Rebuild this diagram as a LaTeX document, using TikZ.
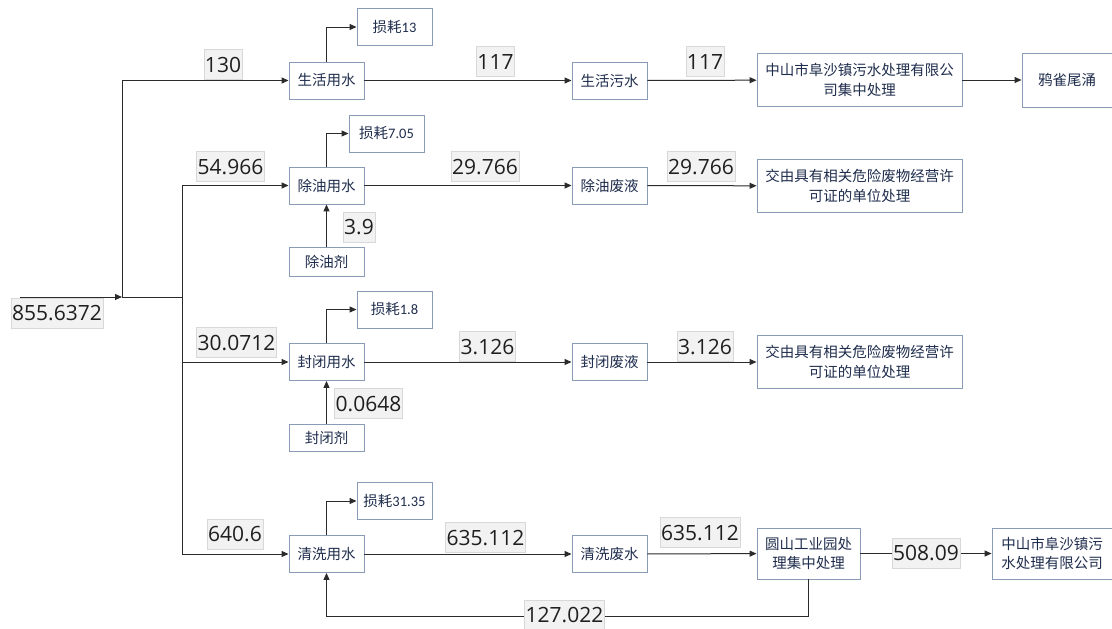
\documentclass[tikz,border=0pt]{standalone}
\usepackage{fontspec}
\newfontfamily\cjk{Noto Sans CJK SC}
\newfontfamily\numf{Open Sans}
\newfontfamily\latf{Carlito}
\usetikzlibrary{arrows.meta}
\definecolor{boxline}{HTML}{8A9BB8}
\definecolor{txt}{HTML}{1F2D4D}
\definecolor{lblbg}{HTML}{F2F2F2}
\definecolor{lblline}{HTML}{D8D8D8}
\definecolor{wire}{HTML}{2B2B2B}
\tikzset{
  box/.style={draw=boxline, line width=0.9pt, fill=white, text=txt,
    font=\cjk\fontsize{14.5}{19.5}\selectfont, align=center, inner sep=0pt},
  sbox/.style={box, minimum width=75pt, minimum height=37pt},
  wbox/.style={box, minimum width=205pt, minimum height=53pt},
  lbl/.style={draw=lblline, fill=lblbg, text=black!88,
    font=\numf\fontsize{21}{21}\selectfont, inner xsep=1pt, inner ysep=0pt,
    minimum height=30pt, text height=15pt, text depth=0pt},
  wireline/.style={draw=wire, line width=1pt},
  arr/.style={wireline, -{Triangle[length=7pt,width=6pt]}}
}
\begin{document}
\begin{tikzpicture}[x=1pt,y=-1pt]
\useasboundingbox (0,0) rectangle (1112,629);
\fill[white] (0,0) rectangle (1112,629);
% row 1
\node[sbox] (sh) at (326.5,80.5) {生活用水};
\node[sbox] (shloss) at (394.5,27) {损耗{\latf 13}};
\node[sbox] (shw) at (609.5,80.5) {生活污水};
\node[wbox] (sht) at (859.5,80) {中山市阜沙镇污水处理有限公\\司集中处理};
\node[box, minimum width=90pt, minimum height=54pt] (yq) at (1067,80) {鸦雀尾涌};
% row 2
\node[sbox] (cy) at (326.5,185.5) {除油用水};
\node[sbox] (cyloss) at (386.5,133.5) {损耗{\latf 7.05}};
\node[sbox] (cyw) at (609.5,185.5) {除油废液};
\node[wbox] (cyt) at (859.5,186) {交由具有相关危险废物经营许\\可证的单位处理};
\node[box, minimum width=75pt, minimum height=29pt] (cyj) at (326.5,261.5) {除油剂};
% row 3
\node[sbox] (fb) at (326.5,362) {封闭用水};
\node[sbox] (fbloss) at (394.5,309.5) {损耗{\latf 1.8}};
\node[sbox] (fbw) at (609.5,362) {封闭废液};
\node[wbox] (fbt) at (859.5,362) {交由具有相关危险废物经营许\\可证的单位处理};
\node[box, minimum width=75pt, minimum height=27pt] (fbj) at (326.5,438) {封闭剂};
% row 4
\node[sbox] (qx) at (326.5,554) {清洗用水};
\node[sbox] (qxloss) at (394.5,501) {损耗{\latf 31.35}};
\node[sbox] (qxw) at (609.5,554) {清洗废水};
\node[box, minimum width=103pt, minimum height=51pt] (ys) at (808.5,553.5) {圆山工业园处\\理集中处理};
\node[box, minimum width=120pt, minimum height=51pt] (zs) at (1052,553.5) {中山市阜沙镇污\\水处理有限公司};
% trunk
\coordinate (in) at (20,297);
\coordinate (j1) at (122,297);
\coordinate (j2) at (182,297);
\coordinate (lp) at (808.5,616);
\draw[arr] (in) -- (j1);
\draw[wireline] (j1) -- (j2);
\draw[arr] (j1) |- (sh.west);
\draw[arr] (j2) |- (cy.west);
\draw[arr] (j2) |- (fb.west);
\draw[arr] (j2) |- (qx.west);
% losses
\draw[arr] (sh.north) |- (shloss.west);
\draw[arr] (cy.north) |- (cyloss.west);
\draw[arr] (fb.north) |- (fbloss.west);
\draw[arr] (qx.north) |- (qxloss.west);
% flows
\draw[arr] (sh) -- (shw);
\draw[arr] (shw) -- (sht);
\draw[arr] (sht) -- (yq);
\draw[arr] (cy) -- (cyw);
\draw[arr] (cyw) -- (cyt);
\draw[arr] (cyj) -- (cy);
\draw[arr] (fb) -- (fbw);
\draw[arr] (fbw) -- (fbt);
\draw[arr] (fbj) -- (fb);
\draw[arr] (qx) -- (qxw);
\draw[arr] (qxw) -- (ys);
\draw[arr] (ys) -- (zs);
\draw[arr] (ys.south) -- (lp) -| (qx.south);
% labels
\node[lbl] (l0) at (57,313) {855.6372};
\node[lbl] (l1) at (223,64.5) {130};
\node[lbl] (l2) at (495.5,61.5) {117};
\node[lbl] (l3) at (705,61.5) {117};
\node[lbl] (l4) at (230.5,166.5) {54.966};
\node[lbl] (l5) at (485,166.5) {29.766};
\node[lbl] (l6) at (701,166.5) {29.766};
\node[lbl] (l7) at (359,227) {3.9};
\node[lbl] (l8) at (236.5,342.5) {30.0712};
\node[lbl] (l9) at (487.5,346.5) {3.126};
\node[lbl] (l10) at (705,346.5) {3.126};
\node[lbl] (l11) at (368.5,403.5) {0.0648};
\node[lbl] (l12) at (235,534) {640.6};
\node[lbl] (l13) at (485.5,537.5) {635.112};
\node[lbl] (l14) at (700,532.5) {635.112};
\node[lbl] (l15) at (926,553) {508.09};
\node[lbl] (l16) at (564.5,615) {127.022};
\end{tikzpicture}
\end{document}
